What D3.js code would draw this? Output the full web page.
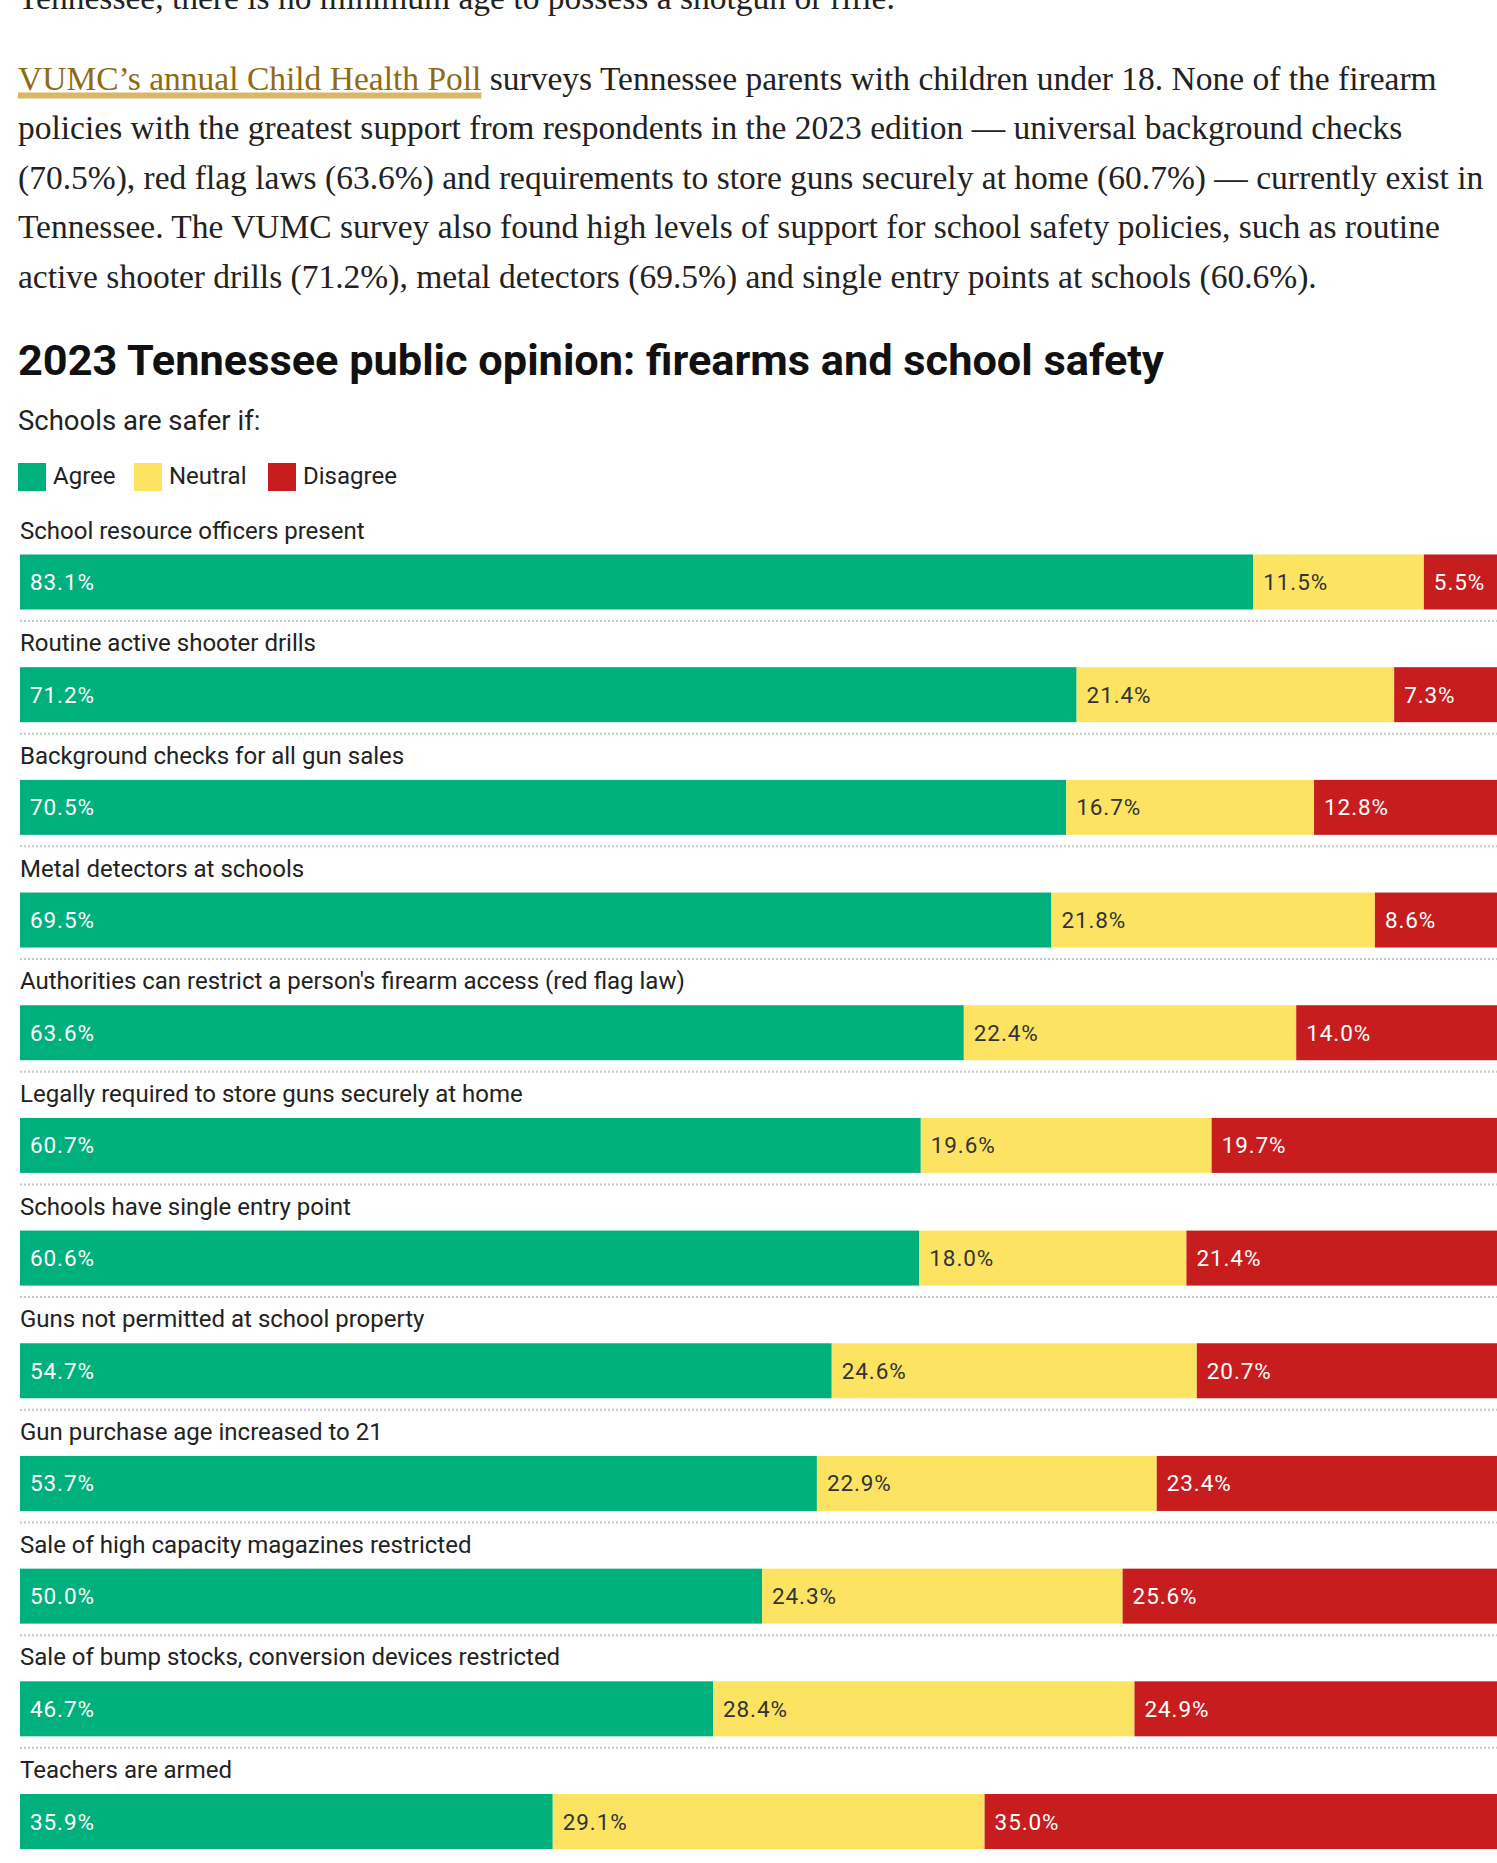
<!DOCTYPE html>
<html>
<head>
<meta charset="utf-8">
<script src="https://cdn.jsdelivr.net/npm/d3@7/dist/d3.min.js"></script>
<style>
  html, body { margin: 0; padding: 0; background: #fff; overflow: hidden; }
  svg { display: block; }
</style>
</head>
<body>
<div id="chart"></div>
<script>
// Survey items, top to bottom
const categories = [
  "School resource officers present",
  "Routine active shooter drills",
  "Background checks for all gun sales",
  "Metal detectors at schools",
  "Authorities can restrict a person's firearm access (red flag law)",
  "Legally required to store guns securely at home",
  "Schools have single entry point",
  "Guns not permitted at school property",
  "Gun purchase age increased to 21",
  "Sale of high capacity magazines restricted",
  "Sale of bump stocks, conversion devices restricted",
  "Teachers are armed"
];
// Share of respondents (%) per response
const agree    = [83.1, 71.2, 70.5, 69.5, 63.6, 60.7, 60.6, 54.7, 53.7, 50.0, 46.7, 35.9];
const neutral  = [11.5, 21.4, 16.7, 21.8, 22.4, 19.6, 18.0, 24.6, 22.9, 24.3, 28.4, 29.1];
const disagree = [ 5.5,  7.3, 12.8,  8.6, 14.0, 19.7, 21.4, 20.7, 23.4, 25.6, 24.9, 35.0];
const responses = ["Agree", "Neutral", "Disagree"];

const W = 1497, H = 1863;
const svg = d3.select("#chart").append("svg").attr("width", W).attr("height", H);

// ---- intro copy ----
const serif = "'Liberation Serif', 'Times New Roman', serif";
const para = svg.append("g").attr("font-family", serif).attr("font-size", 33.5).attr("fill", "#222");
para.append("text").attr("x", 18).attr("y", 9)
  .text("Tennessee, there is no minimum age to possess a shotgun or rifle.");

const lines = [
  null,
  "policies with the greatest support from respondents in the 2023 edition \u2014 universal background checks",
  "(70.5%), red flag laws (63.6%) and requirements to store guns securely at home (60.7%) \u2014 currently exist in",
  "Tennessee. The VUMC survey also found high levels of support for school safety policies, such as routine",
  "active shooter drills (71.2%), metal detectors (69.5%) and single entry points at schools (60.6%)."
];
const lineY = d3.scaleLinear().domain([0, 4]).range([89.5, 287.5]);

// first line with linked poll name
const linkText = "VUMC\u2019s annual Child Health Poll";
const first = para.append("text").attr("x", 18).attr("y", lineY(0));
first.append("tspan").attr("fill", "#8f6a12").text(linkText);
first.append("tspan").text(" surveys Tennessee parents with children under 18. None of the firearm");
const linkW = first.select("tspan").node().getComputedTextLength();
para.insert("rect", "text:nth-of-type(2)")
  .attr("x", 18).attr("y", lineY(0) + 3).attr("width", linkW).attr("height", 6)
  .attr("fill", "#d9b865");
lines.forEach((t, i) => {
  if (t) para.append("text").attr("x", 18).attr("y", lineY(i)).text(t);
});

// ---- chart header ----
const sans = "Roboto, 'Noto Sans', sans-serif";
svg.append("text").attr("x", 18).attr("y", 375)
  .attr("font-family", sans).attr("font-weight", 700).attr("font-size", 43.3).attr("fill", "#111")
  .text("2023 Tennessee public opinion: firearms and school safety");
svg.append("text").attr("x", 18).attr("y", 430)
  .attr("font-family", sans).attr("font-size", 27.5).attr("fill", "#222")
  .text("Schools are safer if:");

const color = d3.scaleOrdinal().domain(responses).range(["#00b07c", "#fce462", "#c71d1e"]);
const textColor = d3.scaleOrdinal().domain(responses).range(["#ffffff", "#333333", "#ffffff"]);

// legend
const legend = svg.append("g").attr("font-family", sans).attr("font-size", 24).attr("fill", "#222");
const legendX = [18, 134, 268];
responses.forEach((r, i) => {
  legend.append("rect").attr("x", legendX[i]).attr("y", 463).attr("width", 28).attr("height", 28).attr("fill", color(r));
  legend.append("text").attr("x", legendX[i] + 35).attr("y", 484).text(r);
});

// ---- stacked bars ----
const rows = categories.map((c, i) => ({ category: c, Agree: agree[i], Neutral: neutral[i], Disagree: disagree[i] }));
const stack = d3.stack().keys(responses)(rows);

const x = d3.scaleLinear().domain([0, 100]).range([20, 1504]);
const rowTop = d3.scaleLinear().domain([0, categories.length - 1]).range([554.5, 1794]);
const barH = 55;

const rowsG = svg.append("g").attr("font-family", sans);

// row titles
rowsG.selectAll("text.row-title").data(categories).join("text")
  .attr("class", "row-title")
  .attr("x", 20).attr("y", (d, i) => rowTop(i) - 16)
  .attr("font-size", 24).attr("fill", "#222")
  .text(d => d);

// dotted separators under every bar except the last
rowsG.selectAll("line.sep").data(categories.slice(0, -1)).join("line")
  .attr("class", "sep")
  .attr("x1", 20).attr("x2", W)
  .attr("y1", (d, i) => rowTop(i) + barH + 11.5).attr("y2", (d, i) => rowTop(i) + barH + 11.5)
  .attr("stroke", "#c8c8c8").attr("stroke-width", 2).attr("stroke-dasharray", "2,2");

const layer = rowsG.selectAll("g.layer").data(stack).join("g").attr("class", "layer");
layer.selectAll("rect").data(s => s.map(d => ({ key: s.key, v: d }))).join("rect")
  .attr("x", d => x(d.v[0]))
  .attr("y", (d, i) => rowTop(i))
  .attr("width", d => x(d.v[1]) - x(d.v[0]))
  .attr("height", barH)
  .attr("fill", d => color(d.key));

layer.selectAll("text").data(s => s.map(d => ({ key: s.key, v: d }))).join("text")
  .attr("x", d => x(d.v[0]) + 10)
  .attr("y", (d, i) => rowTop(i) + barH / 2 + 8)
  .attr("font-size", 22.5).attr("letter-spacing", 0.9)
  .attr("fill", d => textColor(d.key))
  .text(d => (d.v.data[d.key]).toFixed(1) + "%");
</script>
</body>
</html>
